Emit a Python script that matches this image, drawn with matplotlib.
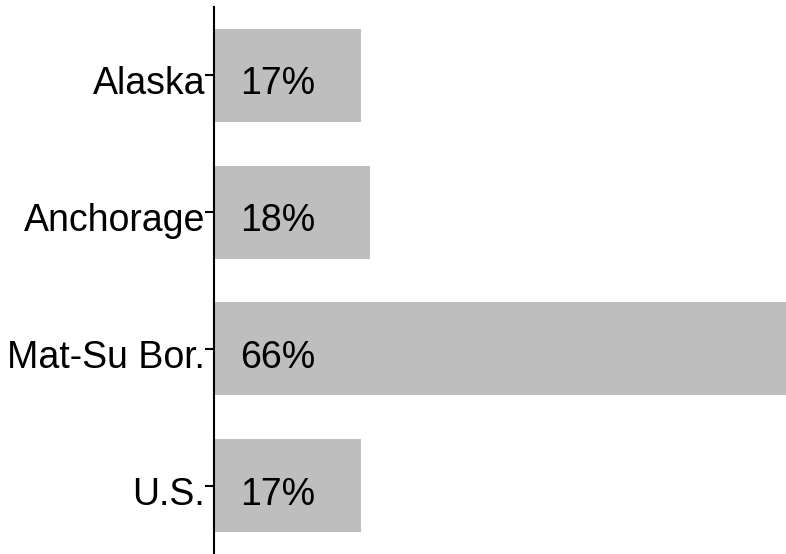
import matplotlib.pyplot as plt
from matplotlib.transforms import ScaledTranslation

plt.rcParams['font.family'] = ['Liberation Sans', 'DejaVu Sans']

# data
regions = ['Alaska', 'Anchorage', 'Mat-Su Bor.', 'U.S.']
values = [17, 18, 66, 17]
labels = ['17%', '18%', '66%', '17%']

fig = plt.figure(figsize=(7.86, 5.54), dpi=100)
ax = fig.add_axes([214 / 786, 0, 572 / 786, 547 / 554])

# text sits a bit below the bar centre in the original
down = ScaledTranslation(0, -0.09, fig.dpi_scale_trans)
left = ScaledTranslation(-0.09, -0.09, fig.dpi_scale_trans)

pos = list(range(len(regions)))
ax.barh(pos, values, height=0.68, color='#bebebe')
for p, v, lab in zip(pos, values, labels):
    ax.text(3, p, lab, ha='left', va='center', fontsize=27, color='black',
            transform=ax.transData + down)

# category labels drawn by hand so they can be nudged down
for p, name in zip(pos, regions):
    ax.text(0, p, name, ha='right', va='center', fontsize=27, color='black',
            transform=ax.get_yaxis_transform() + left, clip_on=False)

ax.set_xlim(0, 66)
ax.set_ylim(3.5, -0.5)
ax.set_yticks(pos)
ax.set_yticklabels([])
ax.tick_params(axis='y', length=6.5, width=1.5, color='black', pad=0)
ax.set_xticks([])
for s in ['top', 'right', 'bottom']:
    ax.spines[s].set_visible(False)
ax.spines['left'].set_linewidth(1.5)

plt.savefig('out.png', dpi=100)
